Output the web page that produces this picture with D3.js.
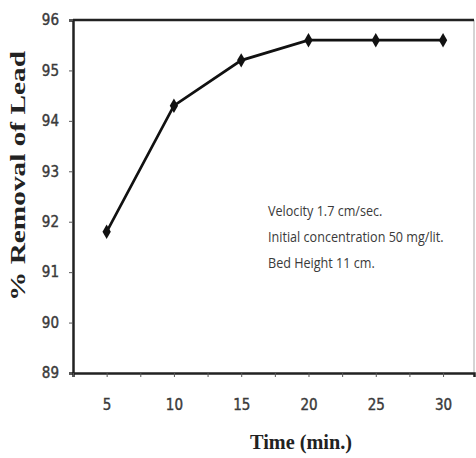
<!DOCTYPE html>
<html>
<head>
<meta charset="utf-8">
<script src="https://cdn.jsdelivr.net/npm/d3@7"></script>
<style>
  body { margin: 0; background: #fff; }
  .tick text { font-family: "DejaVu Sans Condensed", "Open Sans", sans-serif; font-size: 15px; fill: #3a3a3a; stroke: #3a3a3a; stroke-width: 0.4px; }
</style>
</head>
<body>
<script>
// data
var times = [5, 10, 15, 20, 25, 30];
var removal = [91.8, 94.3, 95.2, 95.6, 95.6, 95.6];
var yTicks = [89, 90, 91, 92, 93, 94, 95, 96];
var notes = ["Velocity 1.7 cm/sec.", "Initial concentration 50 mg/lit.", "Bed Height 11 cm."];

var width = 476, height = 458;
var margin = {top: 20, right: 2, bottom: 85, left: 73};

var svg = d3.select("body").append("svg")
    .attr("width", width)
    .attr("height", height);

var x = d3.scaleLinear().domain([2.5, 32.3]).range([margin.left, width - margin.right]);
var y = d3.scaleLinear().domain([89, 96]).range([height - margin.bottom, margin.top]);

// frame
svg.append("line")
    .attr("x1", x.range()[1]).attr("x2", x.range()[1])
    .attr("y1", y(96)).attr("y2", y(89))
    .attr("stroke", "#aaa").attr("stroke-width", 1);
svg.append("line")
    .attr("x1", x.range()[0]).attr("x2", x.range()[1])
    .attr("y1", y(96)).attr("y2", y(96))
    .attr("stroke", "#222").attr("stroke-width", 2.5);

// y axis
var yAxis = svg.append("g")
    .attr("transform", "translate(" + margin.left + ",0)")
    .call(d3.axisLeft(y).tickValues(yTicks).tickSize(4).tickPadding(10).tickFormat(d3.format("d")));
yAxis.select(".domain").attr("stroke", "#222").attr("stroke-width", 2.5);
yAxis.selectAll(".tick line").attr("stroke", "#555");

// x axis: labels at categories, tick marks every 2.5
var xMarks = d3.range(2.5, 32.3, 2.5);
var xAxis = svg.append("g")
    .attr("transform", "translate(0," + y(89) + ")")
    .call(d3.axisBottom(x).tickValues(xMarks).tickSize(4).tickPadding(22)
        .tickFormat(function(d) { return times.indexOf(d) >= 0 ? d : ""; }));
xAxis.select(".domain").attr("stroke", "#222").attr("stroke-width", 2.5);
xAxis.selectAll(".tick line").attr("stroke", "#555");

// line + diamond markers
var pts = times.map(function(t, i) { return [t, removal[i]]; });
svg.append("path")
    .datum(pts)
    .attr("fill", "none")
    .attr("stroke", "#111")
    .attr("stroke-width", 2.7)
    .attr("d", d3.line().x(function(d) { return x(d[0]); }).y(function(d) { return y(d[1]); }));

svg.selectAll(".pt")
    .data(pts)
    .enter().append("path")
    .attr("class", "pt")
    .attr("transform", function(d) { return "translate(" + x(d[0]) + "," + y(d[1]) + ")"; })
    .attr("d", d3.symbol().type(d3.symbolDiamond).size(60))
    .attr("fill", "#111");

// notes (the original font is narrower, so squeeze a bit)
svg.selectAll(".note")
    .data(notes)
    .enter().append("text")
    .attr("class", "note")
    .attr("x", 268)
    .attr("y", function(d, i) { return 216 + i * 26; })
    .attr("font-family", "'Open Sans', sans-serif")
    .attr("font-size", 14)
    .attr("fill", "#3a3a3a")
    .text(function(d) { return d; })
    .each(function() {
        var w = this.getComputedTextLength();
        d3.select(this).attr("textLength", w * 0.9).attr("lengthAdjust", "spacingAndGlyphs");
    });

// axis titles
svg.append("text")
    .attr("x", 301).attr("y", 449)
    .attr("text-anchor", "middle")
    .attr("font-family", "'Liberation Serif', 'Times New Roman', serif")
    .attr("font-weight", "bold")
    .attr("font-size", 20)
    .attr("fill", "#222")
    .attr("textLength", 102)
    .attr("lengthAdjust", "spacingAndGlyphs")
    .text("Time (min.)");

svg.append("text")
    .attr("transform", "translate(25,176) rotate(-90)")
    .attr("text-anchor", "middle")
    .attr("font-family", "'Liberation Serif', 'Times New Roman', serif")
    .attr("font-weight", "bold")
    .attr("font-size", 21)
    .attr("fill", "#222")
    .attr("textLength", 250)
    .attr("lengthAdjust", "spacingAndGlyphs")
    .text("% Removal of Lead");
</script>
</body>
</html>
